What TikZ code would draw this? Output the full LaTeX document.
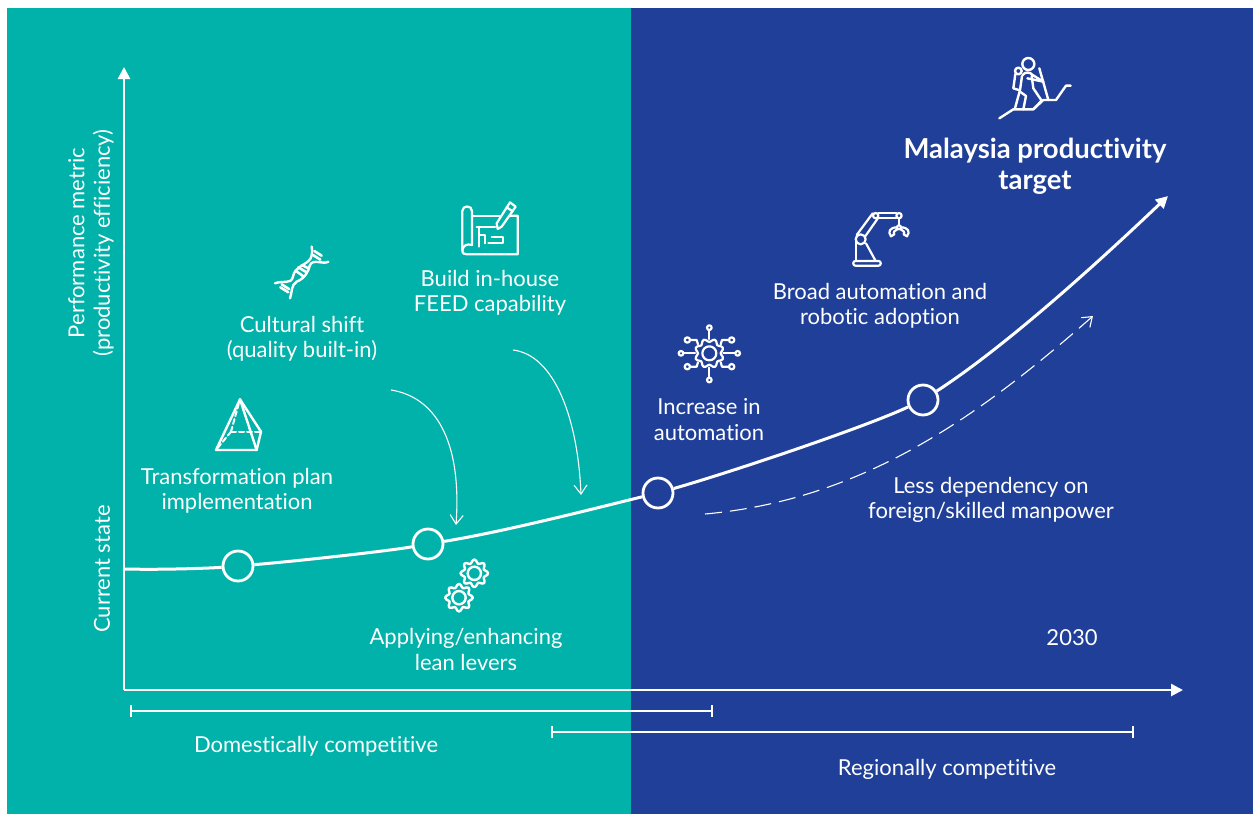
\documentclass[tikz,border=0pt]{standalone}
\usepackage{fontspec}
\setmainfont{Lato}[RawFeature={-liga}]
\usetikzlibrary{arrows.meta}
\definecolor{tealbg}{HTML}{00B2A9}
\definecolor{bluebg}{HTML}{1F3F98}
\tikzset{
  lbl/.style={text=white,align=center,font=\fontsize{22}{25.5}\selectfont,inner sep=0pt},
  mainline/.style={draw=white,line width=3pt},
  axisline/.style={draw=white,line width=2.6pt,-{Triangle[length=12pt,width=12pt]}},
  thinarrow/.style={draw=white,line width=1.1pt,-{Straight Barb[length=9pt,width=13pt,line width=1.1pt]}},
  milestone/.style={circle,draw=white,line width=2.8pt,fill=none,minimum size=30pt,inner sep=0pt},
  icon/.style={draw=white,line width=2.2pt,line cap=round,line join=round},
  bracket/.style={draw=white,line width=2pt,{Bar[width=12pt,length=0pt]}-{Bar[width=12pt,length=0pt]}},
  gearpic/.pic={
    \draw[icon,line width=2.4pt,smooth cycle] plot[domain=0:352.5,samples=48,variable=\t] (\t:{36+5.5*cos(8*\t)});
    \draw[icon,line width=2.4pt] (0,0) circle (20);
  },
}
\begin{document}
\begin{tikzpicture}[x=1pt,y=-1pt]
\useasboundingbox (0,0) rectangle (1253,814);
\fill[white] (0,0) rectangle (1253,814);
\fill[tealbg] (7,8) rectangle (631,814);
\fill[bluebg] (631,8) rectangle (1253,814);

% axes
\coordinate (origin) at (124,690);
\coordinate (ytop) at (124,67);
\coordinate (xend) at (1183,690);
\draw[axisline] (origin) -- (ytop);
\draw[axisline] (origin) -- (xend);

% brackets
\coordinate (b1a) at (130,711);
\coordinate (b1b) at (713,711);
\coordinate (b2a) at (551,732);
\coordinate (b2b) at (1134,732);
\draw[bracket] (b1a) -- (b1b);
\draw[bracket] (b2a) -- (b2b);

% curve
\coordinate (curvestart) at (125,569);
\coordinate (curveend) at (1168,196);
\node[milestone] (m1) at (238,566) {};
\node[milestone] (m2) at (428,544) {};
\node[milestone] (m3) at (658,493) {};
\node[milestone] (m4) at (923,400) {};
\draw[mainline] (curvestart) .. controls +(40,1) and +(-25,2) .. (m1);
\draw[mainline] (m1) .. controls +(60,-5) and +(-40,7) .. (m2);
\draw[mainline] (m2) .. controls +(80,-13) and +(-50,12) .. (m3);
\draw[mainline] (m3) .. controls +(70,-20) and +(-60,28) .. (m4);
\draw[mainline,-{Triangle[length=12pt,width=12pt]}] (m4) .. controls +(77,-50) and +(-83,79) .. (curveend);

% thin arrows
\coordinate (a1s) at (391,390);
\coordinate (a1e) at (456,525);
\coordinate (a2s) at (513,350);
\coordinate (a2e) at (581,495);
\coordinate (a3s) at (705,514);
\coordinate (a3e) at (1093,316);
\draw[thinarrow] (a1s) .. controls (435,397) and (462,440) .. (a1e);
\draw[thinarrow] (a2s) .. controls (555,355) and (578,420) .. (a2e);
\draw[thinarrow,dash pattern=on 17pt off 8pt] (a3s) .. controls (860,500) and (975,420) .. (a3e);

% labels
\node[lbl,rotate=90] (ylab) at (91,243) {Performance metric\\(productivity efficiency)};
\node[lbl,rotate=90] (cur) at (102,569) {Current state};
\node[lbl] (t1) at (237,491) {Transformation plan\\implementation};
\node[lbl] (t2) at (302,339) {Cultural shift\\(quality built-in)};
\node[lbl] (t3) at (490,293) {Build in-house\\FEED capability};
\node[lbl] (t4) at (466,649.5) {Applying/enhancing\\lean levers};
\node[lbl] (t5) at (709,419.5) {Increase in\\automation};
\node[lbl] (t6) at (880,306) {Broad automation and\\robotic adoption};
\node[lbl] (t7) at (991,500) {Less dependency on\\foreign/skilled manpower};
\node[lbl] (t8) at (1072,638) {2030};
\node[lbl] (t9) at (316,746) {Domestically competitive};
\node[lbl] (t10) at (947,769) {Regionally competitive};
\node[lbl,font=\fontsize{27.5}{31}\selectfont\bfseries] (t11) at (1035,166) {Malaysia productivity\\target};

% climber
\begin{scope}[shift={(980,40)},x=0.3333pt,y=-0.3333pt]
\draw[icon,line width=2.4pt] (145,72) circle (18);
\draw[icon,line width=2.4pt] (115,93) circle (10);
\draw[icon,line width=2.4pt] (58,235) -- (100,208) -- (160,208) -- (190,180) -- (228,180) -- (258,137) -- (272,137);
\draw[icon,line width=2.4pt] (106,102) -- (100,145) -- (116,150);
\draw[icon,line width=2.4pt] (128,105) .. controls (135,95) and (150,95) .. (158,105) -- (190,125);
\draw[icon,line width=2.4pt] (142,115) -- (190,125);
\draw[icon,line width=2.4pt] (178,85) -- (205,180);
\draw[icon,line width=2.4pt] (126,108) -- (120,150) -- (105,205);
\draw[icon,line width=2.4pt] (120,155) -- (138,168) -- (130,208);
\draw[icon,line width=2.4pt] (155,108) -- (160,145) -- (185,182) -- (160,208);
\end{scope}

% robot
\begin{scope}[shift={(840,200)},x=0.3333pt,y=-0.3333pt]
\draw[icon,rounded corners=2pt] (40,183) rectangle (122,197);
\draw[icon] (47,183) -- (47,112);
\draw[icon] (107,183) -- (78,130);
\draw[icon] (62,118) circle (15);
\draw[icon] (50,105) -- (98,40);
\draw[icon] (75,110) -- (115,53);
\draw[icon] (107,47) circle (8);
\draw[icon] (115,40) -- (169,40);
\draw[icon] (115,55) -- (169,55);
\draw[icon] (177,47) circle (8);
\draw[icon] (177,55) -- (177,76);
\draw[icon] (177,82) circle (6);
\draw[icon] (171,82) .. controls (150,82) and (142,95) .. (153,109) -- (163,103) .. controls (158,95) and (165,92) .. (172,88);
\draw[icon] (183,82) .. controls (204,82) and (212,95) .. (201,109) -- (191,103) .. controls (196,95) and (189,92) .. (182,88);
\end{scope}

% network gear
\begin{scope}[shift={(670,315)},x=0.3333pt,y=-0.3333pt]
\draw[icon] (118,115) circle (21);
\draw[icon,smooth cycle] plot[domain=0:352.5,samples=48,variable=\t] ({118+(39+5*cos(8*\t+180))*cos(\t)},{115+(39+5*cos(8*\t+180))*sin(\t)});
\foreach \cx/\cy/\ex/\ey in {118/38/118/72,118/195/118/158,33/115/75/115,203/115/160/115}{
  \draw[icon] (\cx,\cy) circle (7);
  \draw[icon] (\cx,\cy) ++ ({(\ex-\cx)*0.2},{(\ey-\cy)*0.2}) -- (\ex,\ey);
}
\foreach \cx/\cy/\mx/\my/\ex/\ey in {52/75/80/75/84/88,185/75/156/75/152/88,52/155/80/155/84/142,185/155/156/155/152/142}{
  \draw[icon] (\cx,\cy) circle (8);
  \draw[icon] ({\cx+(\mx-\cx)*0.3},\cy) -- (\mx,\my) -- (\ex,\ey);
}
\end{scope}

% blueprint
\begin{scope}[shift={(450,195)},x=0.3333pt,y=-0.3333pt]
\draw[icon] (37,165) -- (37,48) .. controls (37,30) and (66,30) .. (66,48) -- (66,150);
\draw[icon] (37,165) .. controls (37,178) and (45,178) .. (52,178) -- (203,178) -- (203,62) -- (178,62);
\draw[icon] (66,150) .. controls (50,145) and (40,152) .. (37,165);
\draw[icon] (66,62) -- (150,62);
\draw[icon] (143,102) -- (140,85) -- (180,22) -- (197,35) -- (155,95) -- cycle;
\draw[icon] (170,37) -- (188,49);
\draw[icon] (80,95) -- (135,95);
\draw[icon] (88,95) -- (88,155);
\draw[icon] (88,120) -- (105,120) -- (105,145);
\draw[icon] (125,125) -- (160,125) -- (160,145) -- (115,145);
\end{scope}

% DNA
\begin{scope}[shift={(265,235)},x=0.3333pt,y=-0.3333pt]
\draw[icon,line width=2.4pt] (30,145) .. controls (55,135) and (78,150) .. (84,125) .. controls (88,95) and (125,90) .. (137,70) .. controls (142,60) and (142,45) .. (140,35);
\draw[icon,line width=2.4pt] (75,190) .. controls (82,170) and (78,150) .. (95,140) .. controls (120,130) and (130,110) .. (135,90) .. controls (145,70) and (175,90) .. (190,80);
\draw[icon,line width=2.6pt] (50,148) -- (72,162);
\draw[icon,line width=2.6pt] (46,157) -- (70,172);
\draw[icon,line width=2.6pt] (92,107) -- (115,124);
\draw[icon,line width=2.6pt] (100,97) -- (125,112);
\draw[icon,line width=2.6pt] (110,90) -- (130,100);
\draw[icon,line width=2.6pt] (148,48) -- (170,62);
\draw[icon,line width=2.6pt] (144,60) -- (166,74);
\end{scope}

% pyramid
\begin{scope}[shift={(205,390)},x=0.3333pt,y=-0.3333pt]
\draw[icon,line width=2.4pt] (105,28) -- (33,180) -- (155,180) -- cycle;
\draw[icon,line width=2.4pt] (105,28) -- (168,125) -- (155,180);
\draw[icon,line width=2pt,dash pattern=on 5pt off 3pt] (78,125) -- (168,125);
\draw[icon,line width=2pt,dash pattern=on 5pt off 3pt] (78,125) -- (33,180);
\draw[icon,line width=2pt,dash pattern=on 5pt off 3pt] (78,125) -- (105,28);
\end{scope}

% gears
\begin{scope}[shift={(435,550)},x=0.3333pt,y=-0.3333pt]
\pic at (118,70) {gearpic};
\pic at (72,143) {gearpic};
\end{scope}
\end{tikzpicture}
\end{document}
